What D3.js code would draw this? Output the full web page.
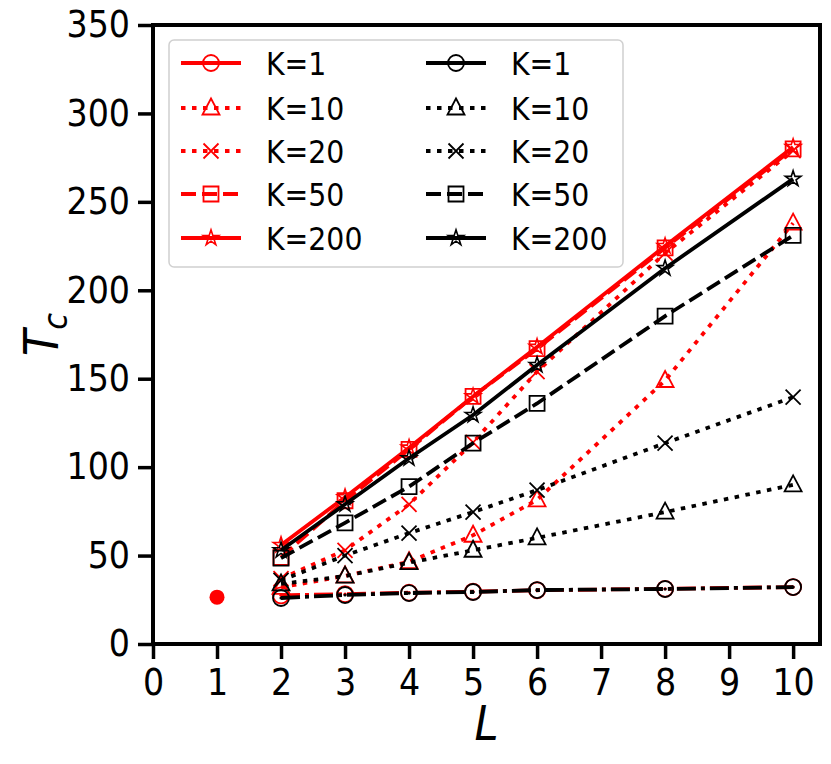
<!DOCTYPE html>
<html>
<head>
<meta charset="utf-8">
<title>Tc vs L</title>
<script src="https://cdn.jsdelivr.net/npm/d3@7"></script>
<style>
  body { margin: 0; background: white; }
  svg { display: block; }
  .axis path, .axis line { stroke: black; }
  .axis text { font-family: "DejaVu Sans Condensed", "DejaVu Sans", sans-serif; font-size: 37px; fill: black; }
</style>
</head>
<body>
<script>
// system sizes on the x axis
var Ls = [2, 3, 4, 5, 6, 8, 10];
var xTicks = [0, 1, 2, 3, 4, 5, 6, 7, 8, 9, 10];
var yTicks = [0, 50, 100, 150, 200, 250, 300, 350];
var kLabels = ["K=1", "K=10", "K=20", "K=50", "K=200"];

// red family
var red1   = [27.5, 28.2, 29.0, 29.6, 30.4, 31.2, 32.2];
var red10  = [32, 38.5, 46.5, 61.5, 81.5, 149, 238];
var red20  = [37, 53, 79, 114, 154, 221, 279];
var red50  = [49, 81, 110, 140, 167, 224, 280];
var red200 = [56, 83, 111, 140, 168, 225, 281];

// black family
var blk1   = [26, 27.7, 28.8, 29.4, 30.5, 31.1, 32.2];
var blk10  = [34, 38.4, 46, 53, 60, 74.6, 90];
var blk20  = [36, 50, 62.7, 74.6, 87, 113.6, 139.6];
var blk50  = [48.6, 68.5, 89, 113.6, 136, 185.4, 231];
var blk200 = [53, 79, 105, 129.5, 157.7, 212.5, 263];

// lone point at L=1
var singleL = [1];
var singleT = [26.5];

var w = 831, h = 764;
var mLeft = 153, mRight = 820, mTop = 25, mBottom = 644;

var x = d3.scaleLinear().domain([0, 10.42]).range([mLeft, mRight]);
var y = d3.scaleLinear().domain([0, 350]).range([mBottom, mTop]);

var svg = d3.select("body").append("svg").attr("width", w).attr("height", h);

var font = "DejaVu Sans Condensed, DejaVu Sans, sans-serif";

var styles = {
  "K=1":   {marker: "odot",   dash: null, plotDash: "19,5,4,5"},
  "K=10":  {marker: "tri",    dash: "4.5,6.5"},
  "K=20":  {marker: "x",      dash: "4.5,6.5"},
  "K=50":  {marker: "square", dash: "15,6"},
  "K=200": {marker: "star",   dash: null}
};

function markerPath(type) {
  var p = d3.path();
  if (type === "odot") {
    p.moveTo(8, 0); p.arc(0, 0, 8, 0, 2 * Math.PI);
  } else if (type === "tri") {
    p.moveTo(0, -9.5); p.lineTo(8.5, 6.5); p.lineTo(-8.5, 6.5); p.closePath();
  } else if (type === "x") {
    p.moveTo(-7.5, -7.5); p.lineTo(7.5, 7.5); p.moveTo(-7.5, 7.5); p.lineTo(7.5, -7.5);
  } else if (type === "square") {
    p.rect(-7.5, -7.5, 15, 15);
  } else if (type === "star") {
    return d3.symbol().type(d3.symbolStar).size(75)();
  }
  return p.toString();
}

function drawMarker(g, type, color, cx, cy) {
  g.append("path")
    .attr("d", markerPath(type))
    .attr("transform", "translate(" + cx + "," + cy + ")")
    .attr("fill", "none")
    .attr("stroke", color)
    .attr("stroke-width", type === "star" ? 1.6 : 1.8);
  if (type === "odot") {
    g.append("circle").attr("cx", cx).attr("cy", cy).attr("r", 1.6).attr("fill", color);
  }
}

var line = d3.line().x(function(d) { return x(d[0]); }).y(function(d) { return y(d[1]); });

function drawSeries(vals, label, color) {
  var s = styles[label];
  var pts = Ls.map(function(L, i) { return [L, vals[i]]; });
  var g = svg.append("g");
  g.append("path")
    .datum(pts)
    .attr("d", line)
    .attr("fill", "none")
    .attr("stroke", color)
    .attr("stroke-width", 3.8)
    .attr("stroke-dasharray", s.plotDash || s.dash);
  pts.forEach(function(d) {
    drawMarker(g, s.marker, color, x(d[0]), y(d[1]));
  });
}

var reds = [red1, red10, red20, red50, red200];
var blacks = [blk1, blk10, blk20, blk50, blk200];

reds.forEach(function(v, i) { drawSeries(v, kLabels[i], "red"); });
blacks.forEach(function(v, i) { drawSeries(v, kLabels[i], "black"); });

svg.selectAll(".single")
  .data(singleL)
  .enter()
  .append("circle")
  .attr("class", "single")
  .attr("cx", function(d) { return x(d); })
  .attr("cy", function(d, i) { return y(singleT[i]); })
  .attr("r", 7.5)
  .attr("fill", "red");

// axes
var xAxis = d3.axisBottom(x).tickValues(xTicks).tickSize(15).tickPadding(10).tickFormat(d3.format("d"));
var yAxis = d3.axisLeft(y).tickValues(yTicks).tickSize(15).tickPadding(8).tickFormat(d3.format("d"));

var gx = svg.append("g").attr("class", "axis")
  .attr("transform", "translate(0," + mBottom + ")")
  .call(xAxis);
gx.select(".domain").remove();
gx.selectAll("line").attr("stroke-width", 3.5);

var gy = svg.append("g").attr("class", "axis")
  .attr("transform", "translate(" + mLeft + ",0)")
  .call(yAxis);
gy.select(".domain").remove();
gy.selectAll("line").attr("stroke-width", 3.5);

// frame
svg.append("rect")
  .attr("x", mLeft).attr("y", mTop)
  .attr("width", mRight - mLeft).attr("height", mBottom - mTop)
  .attr("fill", "none").attr("stroke", "black").attr("stroke-width", 4);

// axis titles
svg.append("text")
  .attr("x", (mLeft + mRight) / 2).attr("y", 740)
  .attr("text-anchor", "middle")
  .style("font-family", font).style("font-size", "48px").style("font-style", "italic")
  .text("L");

var yt = svg.append("text")
  .attr("transform", "translate(58," + ((mTop + mBottom) / 2) + ") rotate(-90)")
  .attr("text-anchor", "middle")
  .style("font-family", font).style("font-size", "48px").style("font-style", "italic");
yt.append("tspan").text("T");
yt.append("tspan").attr("dy", 9).style("font-size", "34px").text("c");

// legend
var leg = svg.append("g");
leg.append("rect")
  .attr("x", 169).attr("y", 40).attr("width", 454).attr("height", 227)
  .attr("rx", 5)
  .attr("fill", "white").attr("fill-opacity", 0.8)
  .attr("stroke", "#d0d0d0").attr("stroke-width", 1.5);

var rowY = [63, 108, 151, 194, 238];
var cols = [{x0: 181, tx: 266, color: "red"}, {x0: 426, tx: 511, color: "black"}];
cols.forEach(function(c) {
  kLabels.forEach(function(k, i) {
    var s = styles[k];
    var yy = rowY[i];
    leg.append("line")
      .attr("x1", c.x0).attr("x2", c.x0 + 60)
      .attr("y1", yy).attr("y2", yy)
      .attr("stroke", c.color).attr("stroke-width", 3.8)
      .attr("stroke-dasharray", s.dash);
    drawMarker(leg, s.marker, c.color, c.x0 + 30, yy);
    leg.append("text")
      .attr("x", c.tx).attr("y", yy + 11.5)
      .style("font-family", font).style("font-size", "31.5px")
      .text(k);
  });
});
</script>
</body>
</html>
